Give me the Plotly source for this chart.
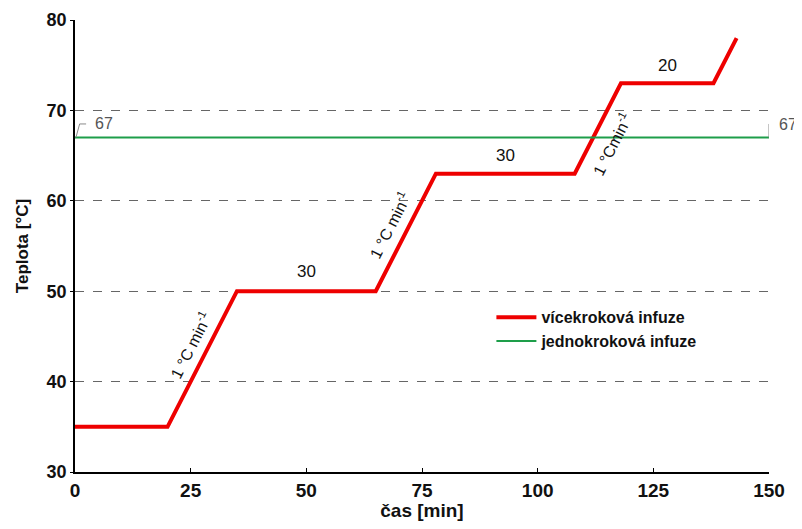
import plotly.graph_objects as go

# Data
time_multi = [0, 20, 35, 65, 78, 108, 118, 138, 143]
temp_multi = [35, 35, 50, 50, 63, 63, 73, 73, 78]
time_single = [0, 150]
temp_single = [67, 67]
single_temp_label = 67

hold_labels = ["30", "30", "20"]
hold_x = [50, 93, 128]
hold_y = [52.2, 65.0, 75.0]

rate_label = "1 °C min<sup>-1</sup>"
rate_label3 = "1 °Cmin<sup>-1</sup>"
rate_x = [25.0, 68.0, 116.0]
rate_y = [44.0, 57.3, 66.3]

x_ticks = [0, 25, 50, 75, 100, 125, 150]
y_ticks = [30, 40, 50, 60, 70, 80]

ARIAL = "Liberation Sans, Arial"
NARROW = "Liberation Sans Narrow, Arial Narrow, Liberation Sans"

fig = go.Figure()
fig.add_trace(go.Scatter(x=time_multi, y=temp_multi, mode="lines",
                         name="vícekroková infuze",
                         line=dict(color="#ee0000", width=4)))
fig.add_trace(go.Scatter(x=time_single, y=temp_single, mode="lines",
                         name="jednokroková infuze",
                         line=dict(color="#1e9e4a", width=2)))

for t, x, y in zip(hold_labels, hold_x, hold_y):
    fig.add_annotation(x=x, y=y, text=t, showarrow=False,
                       font=dict(family=ARIAL, size=17, color="#111"))

for i, (x, y) in enumerate(zip(rate_x, rate_y)):
    fig.add_annotation(x=x, y=y, text=rate_label3 if i == 2 else rate_label,
                       showarrow=False, textangle=-63,
                       font=dict(family=ARIAL, size=16, color="#111"))

# 67 data labels with bracket leaders
gray = "#8a8a8a"
fig.add_annotation(x=time_single[0], y=single_temp_label, text=str(single_temp_label),
                   showarrow=False, xanchor="left", yanchor="middle",
                   xshift=18, yshift=14,
                   font=dict(family=ARIAL, size=16, color="#555"))
fig.add_annotation(x=time_single[-1], y=single_temp_label, text=str(single_temp_label),
                   showarrow=False, xanchor="left", yanchor="middle",
                   xshift=8, yshift=13,
                   font=dict(family=ARIAL, size=16, color="#555"))
fig.add_trace(go.Scatter(x=[0.2, 1.0, 2.4], y=[67, 68.5, 68.5], mode="lines",
                         line=dict(color=gray, width=1), showlegend=False,
                         hoverinfo="skip", cliponaxis=False))
fig.add_trace(go.Scatter(x=[150, 150, 151.2], y=[67, 68.5, 68.5], mode="lines",
                         line=dict(color=gray, width=1), showlegend=False,
                         hoverinfo="skip", cliponaxis=False))

# page body has an 8px margin: compensate so the plot area lands where the reference has it
fig.update_layout(
    width=794, height=513,
    margin=dict(l=67, r=33, t=12, b=49, autoexpand=False),
    plot_bgcolor="white", paper_bgcolor="white",
    font=dict(family=ARIAL, color="#111"),
    legend=dict(x=0.6, y=0.38, xanchor="left", yanchor="top",
                bgcolor="rgba(0,0,0,0)",
                font=dict(family=ARIAL, size=16, color="#111", weight="bold"),
                tracegroupgap=4, itemwidth=40),
    xaxis=dict(range=[0, 150], tickvals=x_ticks, showgrid=False, automargin=False,
               showline=True, linecolor="black", linewidth=1.5,
               ticks="inside", ticklen=4, tickcolor="black",
               tickfont=dict(family=NARROW, size=19, weight="bold"),
               title=dict(text="čas [min]", standoff=14,
                          font=dict(family=NARROW, size=19, weight="bold")),
               zeroline=False),
    yaxis=dict(range=[30, 80], tickvals=y_ticks, showgrid=True, automargin=False,
               gridcolor="#666", griddash="dash", gridwidth=1,
               showline=True, linecolor="black", linewidth=1.5,
               ticks="outside", ticklen=3, tickcolor="black",
               tickfont=dict(family=ARIAL, size=18, weight="bold"),
               title=dict(text="Teplota [°C]", standoff=14,
                          font=dict(family=ARIAL, size=17, weight="bold")),
               zeroline=False),
)

fig.write_html("out.html")
